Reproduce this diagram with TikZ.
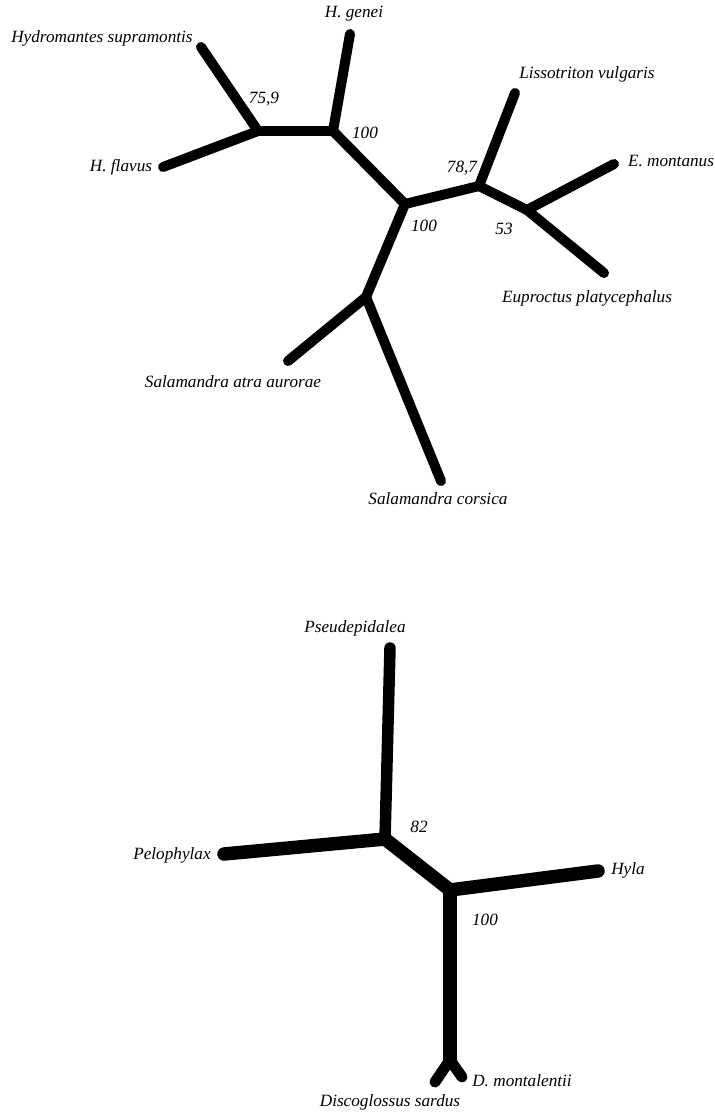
\documentclass[tikz,border=0pt]{standalone}
\usepackage{fontspec}
\setmainfont{Liberation Serif}
\begin{document}
\begin{tikzpicture}[x=1pt,y=-1pt,
  br/.style={line width=10pt,line cap=round,line join=round},
  brb/.style={line width=13.5pt,line cap=round,line join=round},
  lbl/.style={inner sep=0pt,font=\fontsize{17.2}{20}\selectfont\itshape}]
\useasboundingbox (0,0) rectangle (715,1112);
% top tree coordinates
\coordinate (hs) at (201,47);
\coordinate (hf) at (163,167);
\coordinate (hg) at (350,34);
\coordinate (nA) at (258,131);
\coordinate (nB) at (333,131);
\coordinate (nC) at (405,204);
\coordinate (nD) at (479,186);
\coordinate (lv) at (515,93);
\coordinate (nE) at (527,210);
\coordinate (em) at (614,164);
\coordinate (ep) at (604,273);
\coordinate (nF) at (366,297);
\coordinate (sa) at (288,361);
\coordinate (sc) at (441,481);
\draw[br] (hs) -- (nA);
\draw[br] (hf) -- (nA);
\draw[br] (nA) -- (nB);
\draw[br] (hg) -- (nB);
\draw[br] (nB) -- (nC);
\draw[br] (nC) -- (nD);
\draw[br] (lv) -- (nD);
\draw[br] (nD) -- (nE);
\draw[br] (em) -- (nE);
\draw[br] (nE) -- (ep);
\draw[br] (nC) -- (nF);
\draw[br] (sa) -- (nF);
\draw[br] (nF) -- (sc);
% top labels
\node[lbl] (lhs) at (102,38) {Hydromantes supramontis};
\node[lbl] (lhf) at (121,167) {H. flavus};
\node[lbl] (lhg) at (354,14) {H. genei};
\node[lbl] (l759) at (264,99) {75,9};
\node[lbl] (l100a) at (365,133) {100};
\node[lbl] (l100b) at (424,226) {100};
\node[lbl] (l787) at (462,168) {78,7};
\node[lbl] (l53) at (504,229) {53};
\node[lbl] (llv) at (587,74) {Lissotriton vulgaris};
\node[lbl] (lem) at (671,161) {E. montanus};
\node[lbl] (lep) at (587,298) {Euproctus platycephalus};
\node[lbl] (lsa) at (233,382) {Salamandra atra aurorae};
\node[lbl] (lsc) at (438,499) {Salamandra corsica};
% bottom tree coordinates
\coordinate (ps) at (390,648);
\coordinate (pe) at (224,854);
\coordinate (hy) at (598,871);
\coordinate (nG) at (385,839);
\coordinate (nH) at (450,890);
\coordinate (nI) at (450,1060);
\coordinate (ds) at (435,1082);
\coordinate (dm) at (462,1077);
\draw[line width=11.5pt,line cap=round,line join=round] (ps) -- (nG);
\draw[brb] (pe) -- (nG);
\draw[brb] (nG) -- (nH);
\draw[brb] (nH) -- (hy);
\draw[brb] (nH) -- (nI);
\draw[line width=11pt,line cap=round,line join=round] (nI) -- (ds);
\draw[line width=11pt,line cap=round,line join=round] (nI) -- (dm);
% bottom labels
\node[lbl] (lps) at (355,628) {Pseudepidalea};
\node[lbl] (lpe) at (172,855) {Pelophylax};
\node[lbl] (lhy) at (628,870) {Hyla};
\node[lbl] (l82) at (419,827) {82};
\node[lbl] (l100c) at (485,920) {100};
\node[lbl] (ldm) at (522,1081) {D. montalentii};
\node[lbl] (lds) at (390,1102) {Discoglossus sardus};
\end{tikzpicture}
\end{document}
